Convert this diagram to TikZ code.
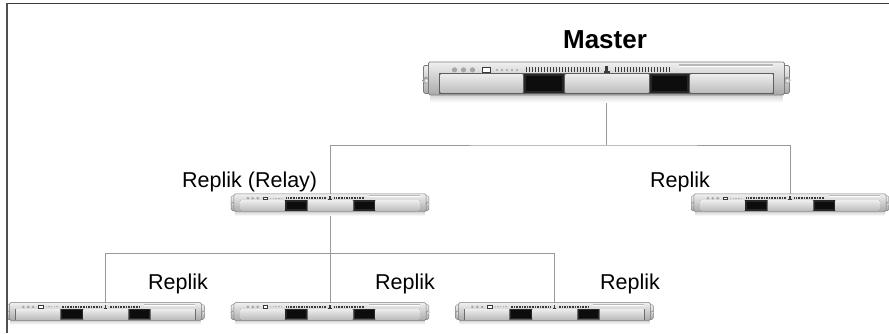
\documentclass[tikz,border=0pt]{standalone}
\usepackage{fontspec}
\setmainfont{Liberation Sans}
\usetikzlibrary{backgrounds}
\definecolor{bodyTop}{HTML}{F0F0F0}
\definecolor{bodyBot}{HTML}{A9A9A9}
\definecolor{bodyEdge}{HTML}{7C7C7C}
\definecolor{bayTop}{HTML}{ECECEC}
\definecolor{bayBot}{HTML}{BDBDBD}
\definecolor{panelEdge}{HTML}{5E5E5E}
\definecolor{ventDark}{HTML}{3A3A3A}
\definecolor{linkGray}{HTML}{9A9A9A}
\definecolor{frameGray}{HTML}{3C3C3C}

\tikzset{
  x=1pt, y=-1pt,
  link/.style={draw=linkGray, line width=0.8pt},
  lbl/.style={inner sep=0pt, text=black, font=\fontsize{21.5}{24}\selectfont},
  % a 1U rack server seen from the front; #1 is its scale
  pics/server/.style={code={
    \begin{scope}[scale=#1]
      % faint reflection below the case
      \shade[top color=black!16, bottom color=white] (-176,17) rectangle (176,24);
      % ears with screws
      \foreach \s in {-1,1}{
        \shade[top color=bodyTop, bottom color=bodyBot, draw=bodyEdge,
               line width=#1*0.7pt, rounded corners=1.5pt]
          (\s*170,-13) rectangle (\s*183,15);
        \shade[inner color=white, outer color=black!45]
          (\s*180.5,2) circle (3.5);
      }
      % case
      \shade[top color=bodyTop, bottom color=bodyBot, draw=bodyEdge,
             line width=#1*0.8pt, rounded corners=1.5pt]
        (-178,-16.5) rectangle (178,16.5);
      % control buttons on the left
      \foreach \b in {-152,-143,-134}
        \fill[black!35] (\b,-8.5) circle (2.6);
      \fill[white, draw=ventDark, line width=#1*0.8pt] (-124,-11) rectangle (-116,-6);
      \foreach \b in {-111,-106,...,-88}
        \fill[black!30] (\b,-9.5) rectangle ++(2.5,2);
      % ventilation slots
      \foreach \v in {-81,-78,...,-8}
        \fill[ventDark] (\v,-11) rectangle ++(1.8,4.5);
      \foreach \v in {8,11,...,64}
        \fill[ventDark] (\v,-11) rectangle ++(1.8,4.5);
      \fill[ventDark] (-1.5,-12) rectangle (1.5,-7);
      \fill[ventDark] (-3,-7) rectangle (3,-5.5);
      % status strip on the right
      \fill[black!28] (72,-14) rectangle (166,-12.6);
      \fill[white] (72,-12.6) rectangle (166,-11.6);
      % drive panel
      \fill[panelEdge] (-167.5,-5.5) rectangle (167.5,15.5);
      \foreach \xa/\xb in {-166/-84, -40.8/42, 84.2/166}
        \shade[top color=bayTop, bottom color=bayBot] (\xa,-4.3) rectangle (\xb,14.3);
      \foreach \xa/\xb in {-82.5/-42.3, 43.6/82.7}{
        \fill[black!85] (\xa,-4.3) rectangle (\xb,14.3);
        \fill[black!95] (\xa+2,-2.3) rectangle (\xb-2,12.3);
      }
      \coordinate (-top) at (0,-16.5);
      \coordinate (-bot) at (0,16.5);
    \end{scope}
  }}
}

\begin{document}
\begin{tikzpicture}
  \useasboundingbox (0,0) rectangle (889,333);

  % branch points of the tree
  \coordinate (split1) at (606.5,145);
  \coordinate (split2) at (330,253.3);

  % the servers
  \pic (master) at (606.5,78.4) {server=1};
  \pic (relay)  at (330,202.8)  {server=0.54};
  \pic (right)  at (790,202.8)  {server=0.54};
  \pic (b1)     at (105.5,311.5) {server=0.54};
  \pic (b2)     at (330,311.5)  {server=0.54};
  \pic (b3)     at (554.5,311.5) {server=0.54};

  % white page and the replication tree, behind the cases
  \begin{scope}[on background layer]
    \fill[white] (0,0) rectangle (889,333);
    \draw[link] (master-bot) -- (split1);
    \draw[link] (relay-top) |- (split1) -| (right-top);
    \draw[link] (relay-bot) -- (split2);
    \draw[link] (b1-top) |- (split2) -| (b3-top);
    \draw[link] (split2) -- (b2-top);
  \end{scope}

  % frame lines along the top and left edges
  \draw[frameGray, line width=1.6pt] (6,3.5) -- (889,3.5);
  \draw[frameGray!90, line width=2.2pt] (7,2.7) -- (7,333);

  % labels
  \node[lbl, anchor=base, font=\bfseries\fontsize{26}{30}\selectfont] (tMaster) at (605,48) {Master};
  \node[lbl, anchor=base west] (tRelay) at (182,187) {Replik (Relay)};
  \node[lbl, anchor=base west] (tRight) at (650,187) {Replik};
  \node[lbl, anchor=base west] (tB1) at (148,289) {Replik};
  \node[lbl, anchor=base west] (tB2) at (375,289) {Replik};
  \node[lbl, anchor=base west] (tB3) at (600,289) {Replik};
\end{tikzpicture}
\end{document}
